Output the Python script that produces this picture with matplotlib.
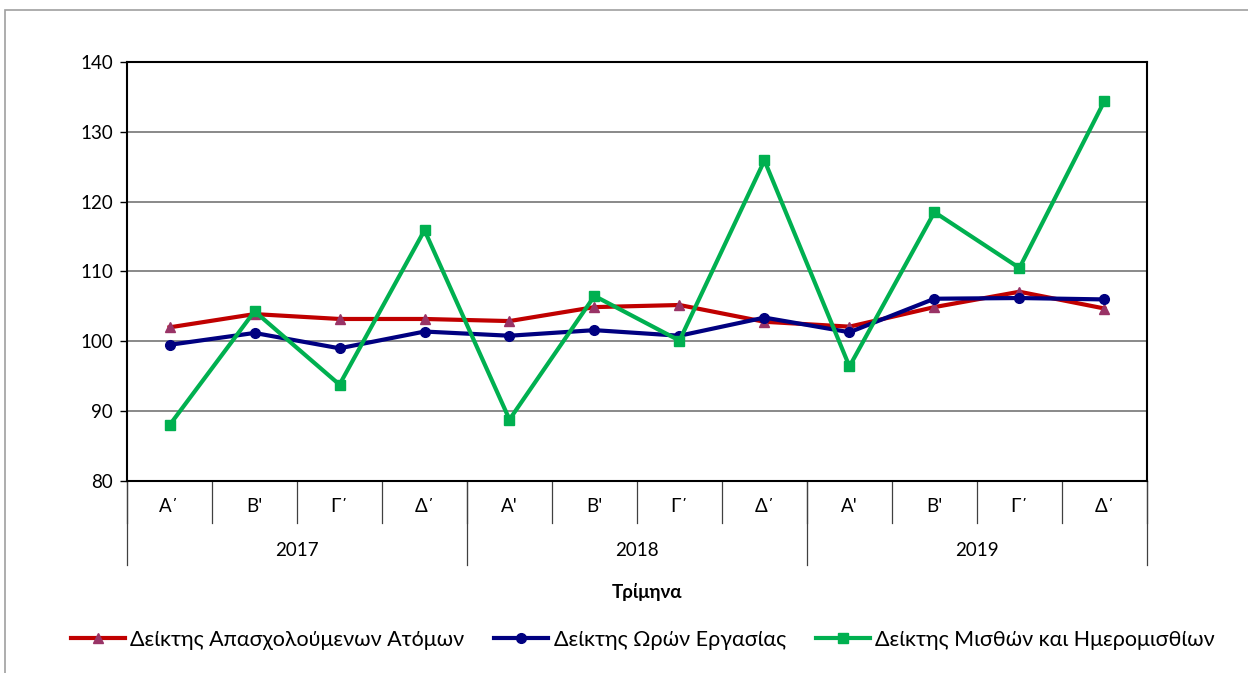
import numpy as np
import matplotlib
matplotlib.use("Agg")
import matplotlib.pyplot as plt
import matplotlib.transforms as mtransforms
from matplotlib.patches import Rectangle

plt.rcParams['font.family'] = ['Lato', 'DejaVu Sans']

years = ["2017", "2018", "2019"]
quarters = ["Α΄", "Β'", "Γ΄", "Δ΄",
            "Α'", "Β'", "Γ΄", "Δ΄",
            "Α'", "Β'", "Γ΄", "Δ΄"]

employed = [102.0, 103.9, 103.2, 103.2, 102.9, 104.9, 105.2, 102.8, 102.1, 104.9, 107.1, 104.7]
hours = [99.5, 101.2, 99.0, 101.4, 100.8, 101.6, 100.8, 103.4, 101.3, 106.1, 106.2, 106.0]
wages = [88.0, 104.3, 93.8, 115.9, 88.8, 106.5, 100.1, 125.9, 96.4, 118.5, 110.5, 134.4]

labels = ["Δείκτης Απασχολούμενων Ατόμων", "Δείκτης Ωρών Εργασίας",
          "Δείκτης Μισθών και Ημερομισθίων"]

fig = plt.figure(figsize=(12.48, 6.73), dpi=100)
ax = fig.add_axes([0.1018, 0.2853, 0.8172, 0.6226])

x = np.arange(len(quarters))
ax.plot(x, employed, color='#C00000', lw=3, marker='^', ms=7,
        mfc='#993366', mec='#993366', label=labels[0], zorder=3)
ax.plot(x, hours, color='#000080', lw=3, marker='o', ms=7,
        mfc='#000080', mec='#000080', label=labels[1], zorder=3)
ax.plot(x, wages, color='#00B050', lw=3, marker='s', ms=6.5,
        mfc='#00B050', mec='#00B050', label=labels[2], zorder=3)

ax.set_xlim(-0.5, len(quarters) - 0.5)
ax.set_ylim(80, 140)
ax.set_yticks(np.arange(80, 141, 10))
ax.yaxis.grid(True, color='#808080', lw=1.3)
ax.set_axisbelow(True)
for s in ax.spines.values():
    s.set_color('black')
    s.set_linewidth(1.5)
ax.tick_params(axis='y', labelsize=13.5, length=5, width=1, direction='out', pad=5)
ax.set_xticks([])

# multi-level category axis
trans = mtransforms.blended_transform_factory(ax.transData, ax.transAxes)
for i, q in enumerate(quarters):
    ax.text(i, -0.062, q, transform=trans, ha='center', va='center', fontsize=13.5)
for b in np.arange(-0.5, len(quarters), 1.0):
    ax.plot([b, b], [0, -0.1], transform=trans, color='#404040', lw=0.9, clip_on=False)
for j, y in enumerate(years):
    ax.text(4 * j + 1.5, -0.165, y, transform=trans, ha='center', va='center', fontsize=13.5)
for b in [-0.5, 3.5, 7.5, 11.5]:
    ax.plot([b, b], [0, -0.2], transform=trans, color='#404040', lw=0.9, clip_on=False)

fig.text(0.5188, 0.12, "Τρίμηνα", ha='center', va='center', fontsize=13.5, fontweight='bold')

ax.legend(loc='center', bbox_to_anchor=(0.515, 0.049), bbox_transform=fig.transFigure,
          ncol=3, frameon=False, fontsize=15.5, handlelength=2.5, handletextpad=0.25,
          columnspacing=1.4)

fig.patches.append(Rectangle((0.004, -0.1), 1.2, 1.085, transform=fig.transFigure,
                             fill=False, edgecolor='#A0A0A0', lw=1.2))

fig.savefig("out.png", dpi=100)
